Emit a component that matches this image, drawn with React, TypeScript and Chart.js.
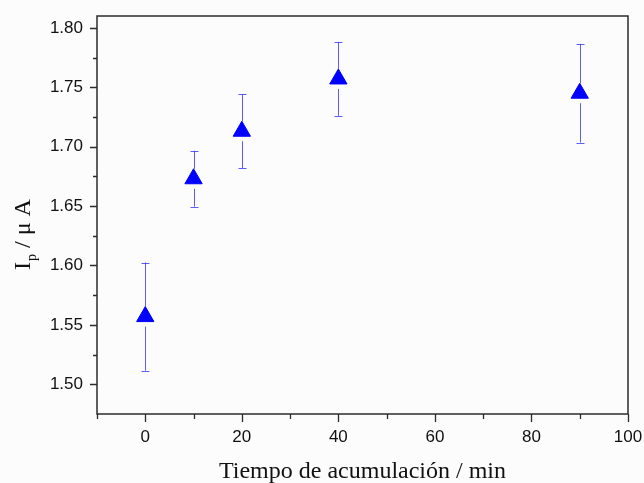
import React, { useEffect, useRef } from "react";
import { Chart, registerables } from "chart.js";

Chart.register(...registerables);

// ---- data ----
const times = [0, 10, 20, 40, 90];
const currents = [1.557, 1.673, 1.713, 1.757, 1.745];
const errors = [0.0455, 0.0235, 0.031, 0.031, 0.0415];

// ---- axes ----
const xMin = -10;
const xMax = 100;
const yMin = 1.475;
const yMax = 1.81;
const xMajorStep = 20;
const yMajorStep = 0.05;
const xMinorTicks = [-10, 10, 30, 50, 70, 90];
const yMinorTicks = [1.525, 1.575, 1.625, 1.675, 1.725, 1.775];
const xTitle = "Tiempo de acumulación / min";
const yTitleMain = "I";
const yTitleSub = "p";
const yTitleRest = " / μ A";

const SANS = "'Liberation Sans', Arial, sans-serif";
const SERIF = "'Liberation Serif', 'Times New Roman', serif";

const framePlugin = {
  id: "framePlugin",
  beforeDraw(chart: any) {
    const { ctx, width, height } = chart;
    ctx.save();
    ctx.fillStyle = "#fcfcfc";
    ctx.fillRect(0, 0, width, height);
    ctx.restore();
  },
  beforeDatasetsDraw(chart: any) {
    const { ctx } = chart;
    const xs = chart.scales.x;
    const ys = chart.scales.y;
    ctx.save();
    ctx.strokeStyle = "rgba(40,40,255,0.75)";
    ctx.lineWidth = 1;
    const gap = 10;
    const cap = 4;
    times.forEach((t, i) => {
      const px = Math.round(xs.getPixelForValue(t)) + 0.5;
      const pc = ys.getPixelForValue(currents[i]);
      const pt = ys.getPixelForValue(currents[i] + errors[i]);
      const pb = ys.getPixelForValue(currents[i] - errors[i]);
      ctx.beginPath();
      ctx.moveTo(px, pt);
      ctx.lineTo(px, pc - gap);
      ctx.moveTo(px, pc + gap);
      ctx.lineTo(px, pb);
      ctx.moveTo(px - cap, Math.round(pt) + 0.5);
      ctx.lineTo(px + cap, Math.round(pt) + 0.5);
      ctx.moveTo(px - cap, Math.round(pb) + 0.5);
      ctx.lineTo(px + cap, Math.round(pb) + 0.5);
      ctx.stroke();
    });
    ctx.restore();
  },
  afterDraw(chart: any) {
    const { ctx, chartArea } = chart;
    const xs = chart.scales.x;
    const ys = chart.scales.y;
    const { left, right, top, bottom } = chartArea;
    ctx.save();
    ctx.strokeStyle = "#2b2b2b";
    ctx.lineWidth = 1.5;
    ctx.strokeRect(left, top, right - left, bottom - top);

    ctx.lineWidth = 1.3;
    ctx.beginPath();
    xs.ticks.forEach((tk: any) => {
      const px = Math.round(xs.getPixelForValue(tk.value)) + 0.5;
      ctx.moveTo(px, bottom);
      ctx.lineTo(px, bottom + 8);
    });
    xMinorTicks.forEach((v) => {
      const px = Math.round(xs.getPixelForValue(v)) + 0.5;
      ctx.moveTo(px, bottom);
      ctx.lineTo(px, bottom + 5);
    });
    ys.ticks.forEach((tk: any) => {
      const py = Math.round(ys.getPixelForValue(tk.value)) + 0.5;
      ctx.moveTo(left, py);
      ctx.lineTo(left - 7, py);
    });
    yMinorTicks.forEach((v) => {
      const py = Math.round(ys.getPixelForValue(v)) + 0.5;
      ctx.moveTo(left, py);
      ctx.lineTo(left - 4, py);
    });
    ctx.stroke();

    // x title
    ctx.fillStyle = "#111";
    ctx.font = `24px ${SERIF}`;
    ctx.textAlign = "center";
    ctx.textBaseline = "alphabetic";
    ctx.fillText(xTitle, (left + right) / 2, 478);

    // y title with subscript
    ctx.translate(30, 270);
    ctx.rotate(-Math.PI / 2);
    ctx.textAlign = "left";
    ctx.font = `24px ${SERIF}`;
    ctx.fillText(yTitleMain, 0, 0);
    let w = ctx.measureText(yTitleMain).width;
    ctx.font = `14px ${SERIF}`;
    ctx.fillText(yTitleSub, w + 1, 6);
    w += ctx.measureText(yTitleSub).width + 1;
    ctx.font = `24px ${SERIF}`;
    ctx.fillText(yTitleRest, w, 0);
    ctx.restore();
  },
};

const zeroPad = (scale: any) => {
  scale.paddingTop = 0;
  scale.paddingBottom = 0;
  scale.paddingLeft = 0;
  scale.paddingRight = 0;
};

export default function App() {
  const canvasRef = useRef<HTMLCanvasElement | null>(null);

  useEffect(() => {
    if (!canvasRef.current) return;
    const chart = new Chart(canvasRef.current, {
      type: "scatter",
      data: {
        datasets: [
          {
            label: "Ip",
            data: times.map((t, i) => ({ x: t, y: currents[i] })),
            pointStyle: "triangle",
            pointRadius: 10,
            pointHoverRadius: 10,
            backgroundColor: "#0000ff",
            borderColor: "#0000ff",
            borderWidth: 1,
            showLine: false,
          },
        ],
      },
      options: {
        animation: false,
        responsive: true,
        maintainAspectRatio: false,
        events: [],
        layout: { padding: { top: 16, right: 16, left: 0, bottom: 0 } },
        plugins: {
          legend: { display: false },
          tooltip: { enabled: false },
        },
        scales: {
          x: {
            type: "linear",
            min: xMin,
            max: xMax,
            grid: { display: false, drawTicks: false },
            border: { display: false },
            ticks: {
              stepSize: xMajorStep,
              includeBounds: false,
              padding: 13,
              color: "#111",
              font: { family: SANS, size: 17 },
              maxRotation: 0,
              autoSkip: false,
            },
            afterFit: (scale: any) => {
              scale.height = 69;
              zeroPad(scale);
            },
          },
          y: {
            type: "linear",
            min: yMin,
            max: yMax,
            grid: { display: false, drawTicks: false },
            border: { display: false },
            ticks: {
              stepSize: yMajorStep,
              includeBounds: false,
              padding: 14,
              color: "#111",
              font: { family: SANS, size: 17 },
              autoSkip: false,
              callback: (v: any) => Number(v).toFixed(2),
            },
            afterFit: (scale: any) => {
              scale.width = 97;
              zeroPad(scale);
            },
          },
        },
      },
      plugins: [framePlugin],
    });
    return () => chart.destroy();
  }, []);

  return (
    <div style={{ position: "fixed", left: 0, top: 0, width: 644, height: 483 }}>
      <canvas ref={canvasRef} />
    </div>
  );
}
